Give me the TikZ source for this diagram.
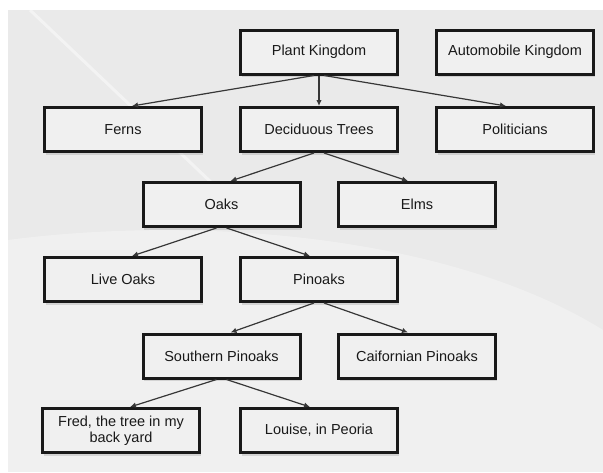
\documentclass[tikz,border=0pt]{standalone}
\usepackage{fontspec}
\setmainfont{Liberation Sans}
\usepackage{xcolor}
\usepackage{tikz}
\usetikzlibrary{arrows.meta,shadows}
\definecolor{backdrop}{RGB}{234, 234, 234}
\definecolor{boxfill}{RGB}{240, 240, 240}
\definecolor{ink}{RGB}{25, 25, 25}
\definecolor{linkgray}{RGB}{55, 55, 55}

\tikzset{
  taxon/.style={draw=ink, line width=3pt, fill=boxfill, minimum width=157pt, minimum height=44pt,
    align=center, text=ink, font=\fontsize{14.5}{16}\selectfont,
    drop shadow={opacity=0.25, shadow xshift=1pt, shadow yshift=-3pt}},
  link/.style={linkgray, line width=1.2pt, -{Latex[length=6pt,width=5.5pt]}}
}

\begin{document}
\begin{tikzpicture}[x=1pt,y=-1pt]
\useasboundingbox (0,0) rectangle (603,472);
% backdrop
\fill[white] (0,0) rectangle (603,472);
\fill[backdrop] (8,10) rectangle (603,472);
\fill[white,opacity=0.3] (8,240) .. controls (200,215) and (450,235) .. (603,330) -- (603,472) -- (8,472) -- cycle;
\draw[white,line width=3pt,opacity=0.45] (30,10) -- (235,205);
% boxes
\node[taxon] (plant) at (319,52) {Plant Kingdom};
\node[taxon] (auto) at (515,52) {Automobile Kingdom};
\node[taxon] (ferns) at (123,129.5) {Ferns};
\node[taxon] (decid) at (319,129.5) {Deciduous Trees};
\node[taxon] (polit) at (515,129.5) {Politicians};
\node[taxon] (oaks) at (221.5,204.5) {Oaks};
\node[taxon] (elms) at (417,204.5) {Elms};
\node[taxon] (live) at (123,279.5) {Live Oaks};
\node[taxon] (pinoaks) at (319,279.5) {Pinoaks};
\node[taxon] (south) at (221.5,356) {Southern Pinoaks};
\node[taxon] (calif) at (417,356) {Caifornian Pinoaks};
\node[taxon] (fred) at (121,430.5) {Fred, the tree in my\\back yard};
\node[taxon] (louise) at (319,430.5) {Louise, in Peoria};
% links
\draw[link] ([xshift=-5pt]plant.south) -- ([xshift=9pt]ferns.north);
\draw[link] (plant.south) -- (decid.north);
\draw[link] ([xshift=5pt]plant.south) -- ([xshift=-9pt]polit.north);
\draw[link] ([xshift=-5pt]decid.south) -- ([xshift=9pt]oaks.north);
\draw[link] ([xshift=5pt]decid.south) -- ([xshift=-9pt]elms.north);
\draw[link] ([xshift=-5pt]oaks.south) -- ([xshift=9pt]live.north);
\draw[link] ([xshift=5pt]oaks.south) -- ([xshift=-9pt]pinoaks.north);
\draw[link] ([xshift=-5pt]pinoaks.south) -- ([xshift=9pt]south.north);
\draw[link] ([xshift=5pt]pinoaks.south) -- ([xshift=-9pt]calif.north);
\draw[link] ([xshift=-5pt]south.south) -- ([xshift=9pt]fred.north);
\draw[link] ([xshift=5pt]south.south) -- ([xshift=-9pt]louise.north);
\end{tikzpicture}
\end{document}
